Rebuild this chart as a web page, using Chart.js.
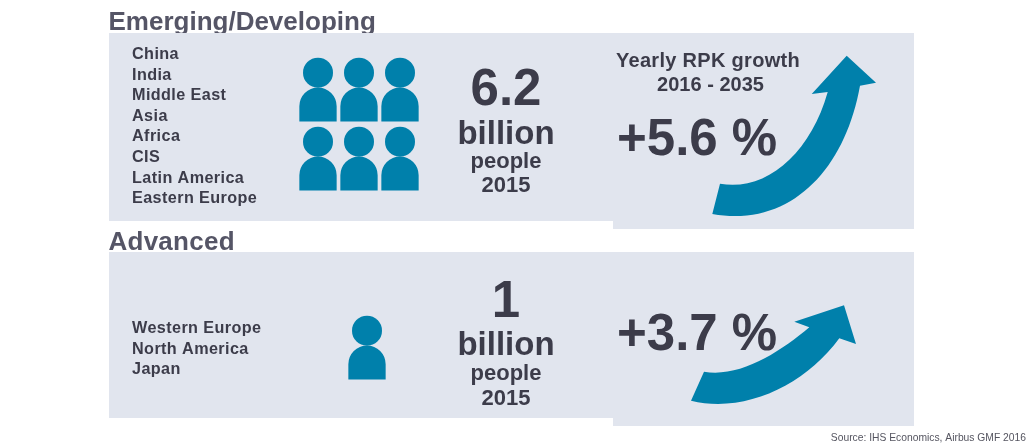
<!DOCTYPE html>
<html>
<head>
<meta charset="utf-8">
<style>html,body{margin:0;padding:0;background:#fff}canvas{display:block}</style>
<script src="https://cdn.jsdelivr.net/npm/chart.js@4/dist/chart.umd.min.js"></script>
</head>
<body>
<canvas id="c" width="1030" height="444"></canvas>
<script>
// ---- data ----
const groupNames = ["Emerging/Developing", "Advanced"];
const emergingRegions = ["China","India","Middle East","Asia","Africa","CIS","Latin America","Eastern Europe"];
const advancedRegions = ["Western Europe","North America","Japan"];
const populationBillions = [6.2, 1];
const peopleIcons = [6, 1];
const rpkGrowthPercent = [5.6, 3.7];
const growthTitle = ["Yearly RPK growth", "2016 - 2035"];
const populationUnit = "billion";
const populationNoun = "people";
const populationYear = "2015";
const sourceNote = "Source: IHS Economics, Airbus GMF 2016";

// ---- layout (page pixels, mapped through the chart's scales) ----
const TEAL = "#0080ab", PANEL = "#e1e5ee", INK = "#3c3c4a", HEAD = "#555566";
const panels = [[109,33,613,221],[613,33,914,229],[109,252,613,418],[613,252,914,426]];
const iconSlots = [
  [[318,90],[359,90],[400,90],[318,159],[359,159],[400,159]],
  [[367,348]]
];
const arrowShapes = [
  { start:[712.3,214], upperStart:[720,183.7],
    upper:[[765,192],[810,155],[827.7,92]],
    head:[[811.7,94],[846.7,55.7],[876,82.7],[860,85.7]],
    lower:[[845,170],[790,228],[712.3,214]] },
  { start:[691,400.7], upperStart:[704,371.7],
    upper:[[740,378],[780,352],[809.3,327.3]],
    head:[[794.3,321.7],[844,305.3],[856,344],[839.3,338.3]],
    lower:[[805,385],[745,414],[691,400.7]] }
];

function personIcon(){
  const w=40,h=66,cx=20,cy=33,c=document.createElement("canvas");
  c.width=w;c.height=h;
  const g=c.getContext("2d");
  g.fillStyle=TEAL;
  g.beginPath();g.arc(cx,cy-17.3,15,0,Math.PI*2);g.fill();
  const hw=18.65, top=cy-2.5, bottom=cy+31.4;
  g.beginPath();
  g.moveTo(cx-hw,bottom);g.lineTo(cx-hw,top+hw);
  g.arc(cx,top+hw,hw,Math.PI,0);
  g.lineTo(cx+hw,bottom);g.closePath();g.fill();
  return c;
}
const icon = personIcon();
const peoplePoints = [];
peopleIcons.forEach((n,i)=>{ for(let k=0;k<n;k++){ const s=iconSlots[i][k]; peoplePoints.push({x:s[0],y:s[1]}); } });

const drawing = {
  id:"infographic",
  beforeDatasetsDraw(chart){
    const ctx=chart.ctx, X=v=>chart.scales.x.getPixelForValue(v), Y=v=>chart.scales.y.getPixelForValue(v);
    const text=(s,x,y,font,color,align,sp)=>{
      ctx.font=font;ctx.fillStyle=color;ctx.textAlign=align||"left";ctx.textBaseline="alphabetic";
      ctx.letterSpacing=sp||"0px";
      ctx.fillText(s,X(x),Y(y));
    };
    const FF='"Liberation Sans",Arial,sans-serif';
    ctx.save();
    text(groupNames[0],108.5,29.5,"bold 26px "+FF,HEAD);
    text(groupNames[1],108.5,250,"bold 26px "+FF,HEAD,"left","0.25px");
    ctx.fillStyle=PANEL;
    panels.forEach(p=>ctx.fillRect(X(p[0]),Y(p[1]),X(p[2])-X(p[0]),Y(p[3])-Y(p[1])));
    ctx.fillStyle=TEAL;
    arrowShapes.forEach(a=>{
      const m=pts=>pts.map(p=>[X(p[0]),Y(p[1])]);
      const u=m(a.upper), l=m(a.lower);
      ctx.beginPath();
      ctx.moveTo(X(a.start[0]),Y(a.start[1]));
      ctx.lineTo(X(a.upperStart[0]),Y(a.upperStart[1]));
      ctx.bezierCurveTo(u[0][0],u[0][1],u[1][0],u[1][1],u[2][0],u[2][1]);
      m(a.head).forEach(p=>ctx.lineTo(p[0],p[1]));
      ctx.bezierCurveTo(l[0][0],l[0][1],l[1][0],l[1][1],l[2][0],l[2][1]);
      ctx.closePath();ctx.fill();
    });
    emergingRegions.forEach((r,i)=>text(r,132,59+i*20.6,"bold 16.2px "+FF,INK,"left","0.4px"));
    advancedRegions.forEach((r,i)=>text(r,132,333+i*20.6,"bold 16.2px "+FF,INK,"left","0.4px"));
    const baselines=[[105,143.5,168,192],[317,355,380,405]];
    populationBillions.forEach((v,i)=>{
      const b=baselines[i];
      text(String(v),506,b[0],"bold 51px "+FF,INK,"center");
      text(populationUnit,506,b[1],"bold 33px "+FF,INK,"center");
      text(populationNoun,506,b[2],"bold 22px "+FF,INK,"center");
      text(populationYear,506,b[3],"bold 22px "+FF,INK,"center");
    });
    text(growthTitle[0],708,66.5,"bold 20px "+FF,INK,"center","0.3px");
    text(growthTitle[1],710.5,91,"bold 20px "+FF,INK,"center");
    const gb=[155,349.5];
    rpkGrowthPercent.forEach((v,i)=>text("+"+v.toFixed(1)+" %",617,gb[i],"bold 51px "+FF,INK));
    text(sourceNote,1026,441,"10.3px "+FF,"#555560","right");
    ctx.restore();
  }
};

new Chart(document.getElementById("c"),{
  type:"scatter",
  data:{datasets:[{label:"People",data:peoplePoints,pointStyle:icon,pointRadius:20,showLine:false,clip:false}]},
  options:{
    responsive:false,animation:false,devicePixelRatio:1,
    layout:{padding:0,autoPadding:false},
    plugins:{legend:{display:false},tooltip:{enabled:false},title:{display:false}},
    events:[],
    scales:{
      x:{type:"linear",min:0,max:1030,display:false},
      y:{type:"linear",min:0,max:444,reverse:true,display:false}
    }
  },
  plugins:[drawing]
});
</script>
</body>
</html>
